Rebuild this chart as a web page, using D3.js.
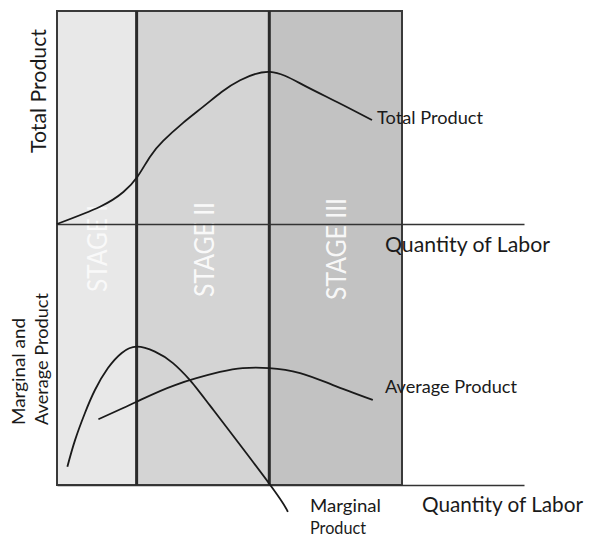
<!DOCTYPE html>
<html><head><meta charset="utf-8">
<script src="https://cdn.jsdelivr.net/npm/d3@7"></script>
<style>html,body{margin:0;padding:0;background:#fff}svg{display:block}</style>
</head><body>
<script>
// ---- data ----
const stageBounds = [0, 3, 8, 13];
const stageNames = ["STAGE I", "STAGE II", "STAGE III"];
const stageFill = ["#e8e8e8", "#d4d4d4", "#c2c2c2"];

const tpLabor = [0, 1.62, 2.5, 3.03, 3.5, 4.0, 4.75, 5.5, 6.2, 6.9, 8.03, 9.27, 10.55, 11.87];
const tpValue = [0, 8.1, 15, 22.2, 31.5, 39, 47.5, 55, 62, 67.5, 71.4, 65.3, 57.3, 48.8];

const mpLabor = [0.39, 0.68, 1.05, 1.43, 1.92, 2.44, 3.0, 3.69, 4.37, 5.01, 5.76, 8.0, 8.7];
const mpValue = [7.0, 17.2, 27.5, 36.4, 44.8, 50.6, 53.0, 51.1, 46.7, 40.2, 30.5, 0.5, -10.3];

const apLabor = [1.56, 3.0, 4.45, 6.14, 7.0, 7.99, 9.16, 10.4, 11.9];
const apValue = [25.2, 31.9, 38.3, 43.3, 44.8, 44.8, 42.9, 38.3, 32.6];

// ---- layout ----
const W = 592, H = 539;
const svg = d3.select("body").append("svg").attr("width", W).attr("height", H);
const font = "Lato, 'Open Sans', sans-serif";

const x = d3.scaleLinear().domain([0, 13]).range([57, 402]);
const xAxisScale = d3.scaleLinear().domain([0, 17.6]).range([57, 524]);
const yTop = d3.scaleLinear().domain([0, 100]).range([224, 11]);
const yBot = d3.scaleLinear().domain([0, 100]).range([485, 224]);

// stage backgrounds
svg.selectAll("rect.stage").data(stageNames).join("rect")
  .attr("x", (d, i) => x(stageBounds[i]))
  .attr("width", (d, i) => x(stageBounds[i + 1]) - x(stageBounds[i]))
  .attr("y", yTop(100)).attr("height", yBot(0) - yTop(100))
  .attr("fill", (d, i) => stageFill[i]);

// stage labels
const stageLabelX = [107, 214, 345.5];
const stageLabelY = [292, 297, 300];
const stageLabelLen = [87, 95, 102];
svg.selectAll("text.stage").data(stageNames).join("text")
  .attr("transform", (d, i) => `translate(${stageLabelX[i]},${stageLabelY[i]}) rotate(-90)`)
  .attr("font-family", font).attr("font-size", 27).attr("fill", "#fff")
  .attr("fill-opacity", (d, i) => i === 0 ? 0.75 : 0.9)
  .attr("textLength", (d, i) => stageLabelLen[i]).attr("lengthAdjust", "spacingAndGlyphs")
  .text(d => d);

// outer frame
svg.append("rect").attr("x", x(0)).attr("y", yTop(100))
  .attr("width", x(13) - x(0)).attr("height", yBot(0) - yTop(100))
  .attr("fill", "none").attr("stroke", "#3a3a3a").attr("stroke-width", 2);

// stage boundaries
svg.selectAll("line.bound").data(stageBounds.slice(1, 3)).join("line")
  .attr("x1", d => x(d)).attr("x2", d => x(d))
  .attr("y1", yTop(100)).attr("y2", yBot(0))
  .attr("stroke", "#2a2a2a").attr("stroke-width", 3);

// axes (lines only)
const axis = d3.axisBottom(xAxisScale).tickValues([]).tickSizeOuter(0);
[yTop(0), yBot(0)].forEach(yy => {
  const g = svg.append("g").attr("transform", `translate(0,${yy})`).call(axis);
  g.select(".domain").attr("stroke", "#333").attr("stroke-width", 1.5);
});

// curves
const line = (ys) => d3.line().x(d => x(d[0])).y(d => ys(d[1])).curve(d3.curveNatural);
const curveStyle = s => s.attr("fill", "none").attr("stroke", "#1a1a1a").attr("stroke-width", 1.8);
svg.append("path").datum(d3.zip(tpLabor, tpValue)).attr("d", line(yTop)).call(curveStyle);
svg.append("path").datum(d3.zip(mpLabor, mpValue)).attr("d", line(yBot)).call(curveStyle);
svg.append("path").datum(d3.zip(apLabor, apValue)).attr("d", line(yBot)).call(curveStyle);

// text labels
function label(t, xx, yy, size, len, rot) {
  const el = svg.append("text").attr("font-family", font).attr("font-size", size).attr("fill", "#1a1a1a")
    .attr("textLength", len).attr("lengthAdjust", "spacingAndGlyphs").text(t);
  if (rot) el.attr("transform", `translate(${xx},${yy}) rotate(-90)`);
  else el.attr("x", xx).attr("y", yy);
}
label("Total Product", 46, 153, 21, 124, true);
label("Marginal and", 25, 425, 18, 107, true);
label("Average Product", 48, 425, 18, 132, true);
label("Total Product", 377, 124, 17, 106, false);
label("Quantity of Labor", 385, 252, 21, 165, false);
label("Average Product", 385, 393, 17, 132, false);
label("Quantity of Labor", 422, 512, 21, 161, false);
label("Marginal", 310, 512, 17, 71, false);
label("Product", 310, 534, 17, 56, false);
</script>
</body></html>
